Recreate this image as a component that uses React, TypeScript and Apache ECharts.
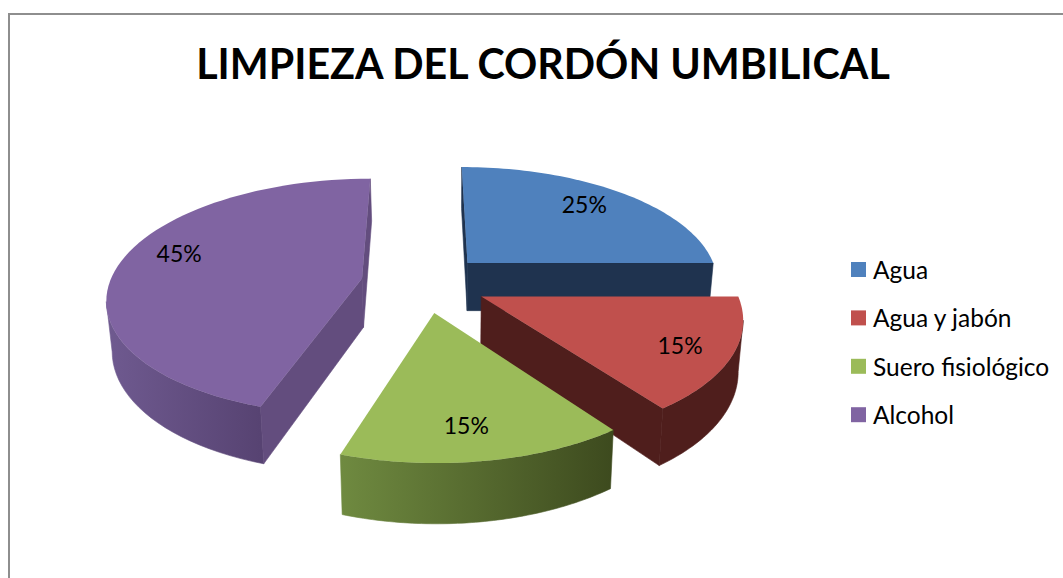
import React, { useEffect, useRef } from "react";
import * as echarts from "echarts";

const titleText = "LIMPIEZA DEL CORDÓN UMBILICAL";
const categories = ["Agua", "Agua y jabón", "Suero fisiológico", "Alcohol"];
const percentages = [25, 15, 15, 45];
const topColors = ["#4f81bd", "#c0504d", "#9bbb59", "#8064a2"];
const sideColors = ["#1f334f", "#4f1e1c", "#3f4b20", "#634d7e"];
const rimFrom = ["#1f334f", "#4f1e1c", "#6f8a40", "#6f5a90"];
const rimTo = ["#1f334f", "#4f1e1c", "#3d4a1e", "#574372"];

const FONT = "Lato";
const CX = 424, CY = 283, RX = 252.5, RY = 116.5, PERSP = 0.155, EXPLODE = 0.25, DEPTH = 49;
const VX = 450, BOTTOM_SCALE = 0.983;
const LABEL_RADIUS = [0.76, 0.8, 0.78, 0.76];
const LABEL_SHIFT_X = [-2, 1, -6, 1];
const LABEL_SHIFT_Y = [-4, 2, 1, -12];

type Pt = [number, number];

function project(u: number, v: number, z: number): Pt {
  const w = 1 - PERSP * v;
  const x = CX + (RX * u) / w;
  const y = CY + (RY * v) / w;
  if (z === 0) return [x, y];
  return [VX + (x - VX) * BOTTOM_SCALE, y + DEPTH / w];
}

function renderSlice(index: number, api: any) {
  const total = percentages.reduce((a, b) => a + b, 0);
  const before = percentages.slice(0, index).reduce((a, b) => a + b, 0);
  const value = api.value(0) as number;
  const a0 = (before / total) * Math.PI * 2;
  const a1 = ((before + value) / total) * Math.PI * 2;
  const mid = (a0 + a1) / 2;
  const ou = EXPLODE * Math.sin(mid);
  const ov = -EXPLODE * Math.cos(mid);
  const at = (a: number, r: number): [number, number] => [ou + r * Math.sin(a), ov - r * Math.cos(a)];
  const steps = 64;
  const arcTop: Pt[] = [];
  const arcBottom: Pt[] = [];
  for (let i = 0; i <= steps; i++) {
    const [u, v] = at(a0 + ((a1 - a0) * i) / steps, 1);
    arcTop.push(project(u, v, 0));
    arcBottom.push(project(u, v, 1));
  }
  const apexT = project(ou, ov, 0);
  const apexB = project(ou, ov, 1);
  const children: any[] = [];

  // outer rim: only the stretch of arc that faces the viewer
  let runStart = -1;
  let runEnd = -1;
  for (let i = 0; i < steps; i++) {
    if (arcTop[i + 1][0] < arcTop[i][0]) {
      if (runStart < 0) runStart = i;
      runEnd = i + 1;
    }
  }
  if (runStart >= 0) {
    const upper = arcTop.slice(runStart, runEnd + 1);
    const lower = arcBottom.slice(runStart, runEnd + 1).reverse();
    const xs = upper.map((p) => p[0]);
    const gradient = new echarts.graphic.LinearGradient(
      Math.min(...xs), 0, Math.max(...xs), 0,
      [
        { offset: 0, color: rimFrom[index] },
        { offset: 1, color: rimTo[index] },
      ],
      true
    );
    children.push({
      type: "polygon",
      shape: { points: [...upper, ...lower] },
      style: { fill: gradient, stroke: gradient, lineWidth: 0.6 },
    });
  }

  // straight cut faces, drawn only when they face the viewer
  const first = arcTop[0];
  const last = arcTop[steps];
  const sideStyle = { fill: sideColors[index], stroke: sideColors[index], lineWidth: 0.6 };
  if (first[0] < apexT[0]) {
    children.push({
      type: "polygon",
      shape: { points: [apexT, first, arcBottom[0], apexB] },
      style: sideStyle,
    });
  }
  if (last[0] > apexT[0]) {
    children.push({
      type: "polygon",
      shape: { points: [apexT, last, arcBottom[steps], apexB] },
      style: sideStyle,
    });
  }

  children.push({
    type: "polygon",
    shape: { points: [apexT, ...arcTop] },
    style: { fill: topColors[index] },
  });

  const [lu, lv] = at(mid, LABEL_RADIUS[index]);
  const [lx, ly] = project(lu, lv, 0);
  children.push({
    type: "text",
    style: {
      text: `${value}%`,
      x: lx + LABEL_SHIFT_X[index],
      y: ly + LABEL_SHIFT_Y[index],
      align: "center",
      verticalAlign: "middle",
      fontFamily: FONT,
      fontSize: 23,
      fill: "#000000",
    },
  });
  return { type: "group", children };
}

export default function App() {
  const ref = useRef<HTMLDivElement>(null);
  useEffect(() => {
    document.body.style.margin = "0";
    const chart = echarts.init(ref.current!, undefined, { renderer: "svg" });
    chart.setOption({
      animation: false,
      backgroundColor: "#ffffff",
      title: {
        text: titleText,
        left: 538,
        top: 37,
        textAlign: "center",
        textStyle: { fontFamily: FONT, fontWeight: "bold", fontSize: 41.2, color: "#000000" },
      },
      legend: {
        orient: "vertical",
        left: 851,
        top: 257,
        padding: 0,
        itemWidth: 15,
        itemHeight: 15,
        itemGap: 23.4,
        icon: "rect",
        data: categories,
        textStyle: { fontFamily: FONT, fontSize: 24.5, lineHeight: 24, color: "#000000", padding: [0, 0, 0, 2] },
      },
      graphic: [
        {
          type: "polyline",
          shape: { points: [[9, 578], [9, 14], [1063, 14]] },
          style: { stroke: "#8e8e8e", lineWidth: 2, fill: "none" },
        },
      ],
      series: categories.map((name, i) => ({
        type: "custom",
        name,
        coordinateSystem: "none",
        itemStyle: { color: topColors[i] },
        data: [[percentages[i]]],
        renderItem: (_params: any, api: any) => renderSlice(i, api),
      })),
    });
    return () => chart.dispose();
  }, []);
  return <div ref={ref} style={{ width: 1063, height: 578 }} />;
}
